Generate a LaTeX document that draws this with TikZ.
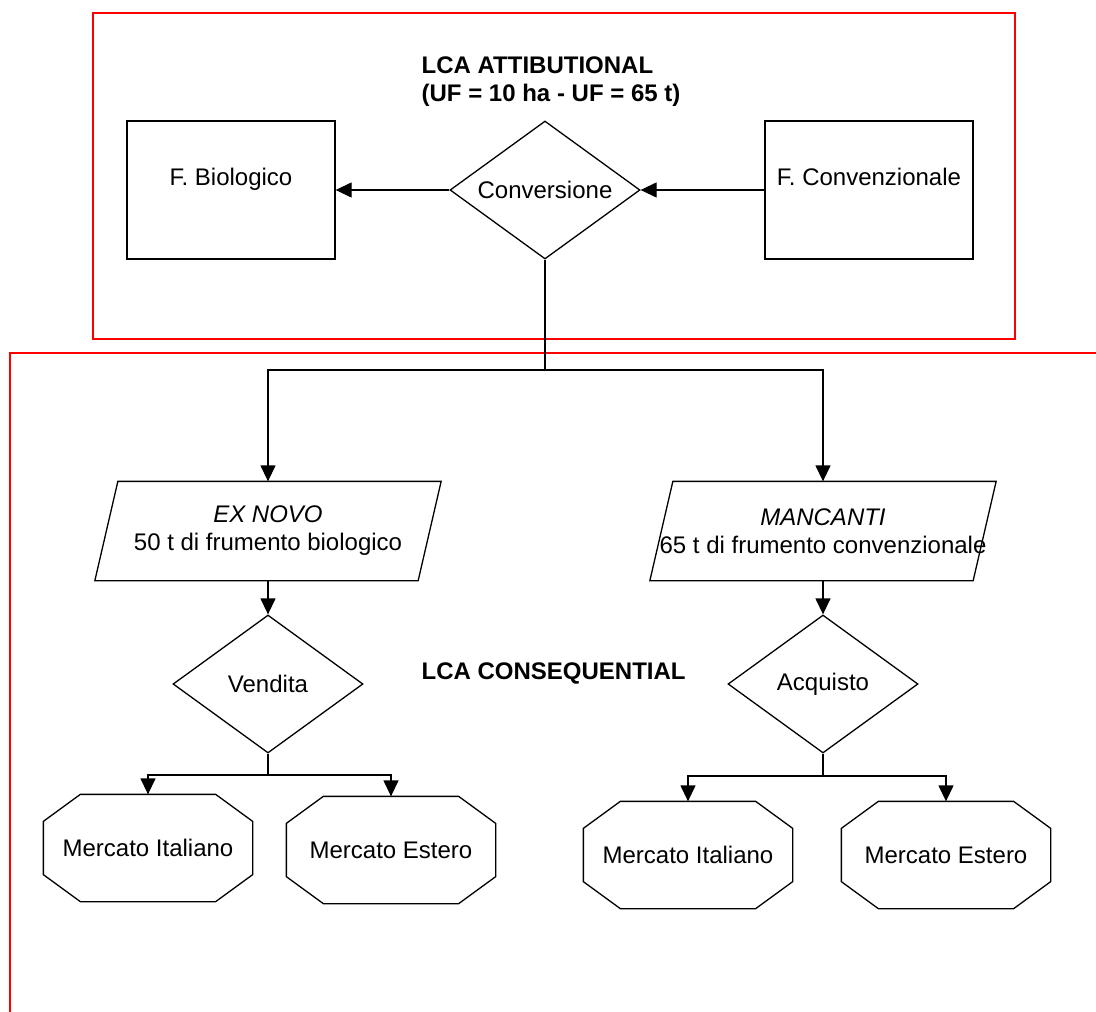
\documentclass[tikz,border=0pt]{standalone}
\usepackage{fontspec}
\setmainfont{Liberation Sans}
\usetikzlibrary{shapes.geometric, arrows.meta, positioning}

\begin{document}
\fontsize{24}{28}\selectfont
\begin{tikzpicture}[x=1pt, y=-1pt, node distance=314pt, line width=1.3pt,
  box/.style={draw, minimum width=208pt, minimum height=138pt, text height=17pt, text depth=26pt},
  choice/.style={draw, diamond, shape aspect=1.38, inner sep=1pt, minimum width=190pt, minimum height=138pt},
  flow/.style={inner xsep=-7pt, minimum width=322pt, minimum height=98pt, align=center},
  market/.style={inner sep=0pt, minimum width=208pt, minimum height=106pt},
  arr/.style={-{Triangle[length=16pt, width=15pt]}},
  frame/.style={draw=red, line width=1.8pt}]
  \useasboundingbox (0,0) rectangle (1096,1012);

  % frames
  \draw[frame] (93,13) rectangle (1015,339);
  \draw[frame] (10,1012) -- (10,353) -- (1096,353);

  % attributional part
  \node[anchor=base west, inner sep=0pt, align=left, font=\bfseries] (attr) at (421,101)
    {LCA ATTIBUTIONAL\\(UF = 10 ha - UF = 65 t)};
  \node[box] (biol) at (231,190) {F. Biologico};
  \node[choice, right of=biol] (conver) {Conversione};
  \node[box, right of=conver, node distance=324pt] (convz) {F. Convenzionale};

  % consequential part
  \node[flow] (exnovo) at (268,531) {\textit{EX NOVO}\\50 t di frumento biologico};
  \node[flow, right of=exnovo, node distance=555pt] (manc) {\textit{MANCANTI}\\65 t di frumento convenzionale};
  \node[choice] (vend) at (268,684) {Vendita};
  \node[choice, right of=vend, node distance=555pt] (acq) {Acquisto};
  \node[anchor=base west, inner sep=0pt, font=\bfseries] (cons) at (421,679) {LCA CONSEQUENTIAL};
  \node[market] (mit1) at (148,848) {Mercato Italiano};
  \node[market] (est1) at (391,850) {Mercato Estero};
  \node[market] (mit2) at (688,855) {Mercato Italiano};
  \node[market] (est2) at (946,855) {Mercato Estero};

  % slanted outlines round the flow nodes
  \foreach \f in {exnovo,manc}
    \draw ([xshift=11.5pt]\f.north west) -- ([xshift=11.5pt]\f.north east)
      -- ([xshift=-11.5pt]\f.south east) -- ([xshift=-11.5pt]\f.south west) -- cycle;

  % octagon outlines round the market nodes
  \foreach \m in {mit1,est1,mit2,est2}
    \draw ([xshift=37pt]\m.north west) -- ([xshift=-37pt]\m.north east) -- ([yshift=-27pt]\m.north east)
      -- ([yshift=27pt]\m.south east) -- ([xshift=-37pt]\m.south east) -- ([xshift=37pt]\m.south west)
      -- ([yshift=27pt]\m.south west) -- ([yshift=-27pt]\m.north west) -- cycle;

  \coordinate (split) at (545,370);
  \coordinate (vsplit) at (268,775);
  \coordinate (asplit) at (823,776);

  \draw[arr] (convz) -- (conver);
  \draw[arr] (conver) -- (biol);
  \draw (conver.south) -- (split);
  \draw[arr] (split) -| (exnovo.north);
  \draw[arr] (split) -| (manc.north);
  \draw[arr] (exnovo) -- (vend);
  \draw[arr] (manc) -- (acq);
  \draw (vend.south) -- (vsplit);
  \draw[arr] (vsplit) -| (mit1.north);
  \draw[arr] (vsplit) -| (est1.north);
  \draw (acq.south) -- (asplit);
  \draw[arr] (asplit) -| (mit2.north);
  \draw[arr] (asplit) -| (est2.north);
\end{tikzpicture}
\end{document}
